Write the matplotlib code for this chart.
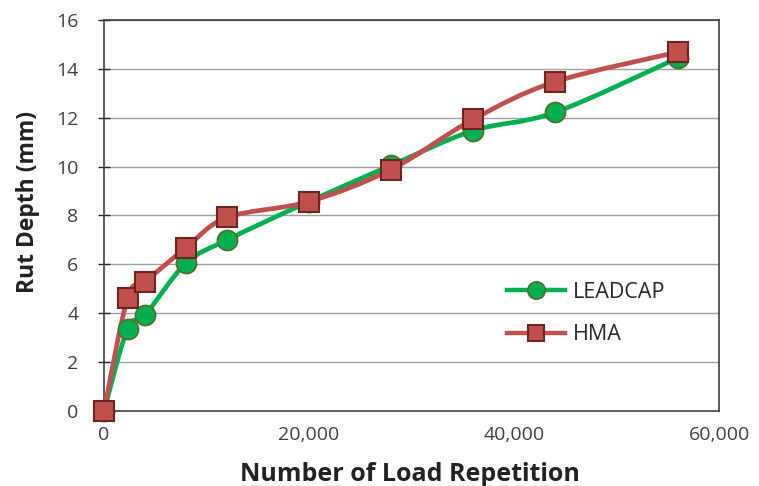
import matplotlib
matplotlib.use("Agg")
import matplotlib.pyplot as plt
import numpy as np
from matplotlib.path import Path
from matplotlib.patches import PathPatch
from matplotlib.lines import Line2D
from matplotlib.ticker import FuncFormatter

load_reps = [0, 2300, 4000, 8000, 12000, 20000, 28000, 36000, 44000, 56000]
leadcap = [0, 3.37, 3.92, 6.05, 7.0, 8.57, 10.05, 11.47, 12.22, 14.45]
hma = [0, 4.62, 5.28, 6.68, 7.92, 8.57, 9.88, 11.93, 13.47, 14.69]
series_names = ["LEADCAP", "HMA"]
x_ticks = [0, 20000, 40000, 60000]
y_ticks = [0, 2, 4, 6, 8, 10, 12, 14, 16]

FONT = "Open Sans"
plt.rcParams["font.family"] = [FONT, "DejaVu Sans"]

fig = plt.figure(figsize=(7.59, 4.86), dpi=100)
ax = fig.add_axes([104/759, 1-411/486, 615/759, 391/486])


def smooth_path(xs, ys):
    pts = np.column_stack([xs, ys]).astype(float)
    n = len(pts)
    verts = [pts[0]]
    codes = [Path.MOVETO]
    for i in range(n - 1):
        p0 = pts[i - 1] if i > 0 else pts[i]
        p1 = pts[i]
        p2 = pts[i + 1]
        p3 = pts[i + 2] if i + 2 < n else pts[i + 1]
        c1 = p1 + (p2 - p0) / 6.0
        c2 = p2 - (p3 - p1) / 6.0
        verts += [c1, c2, p2]
        codes += [Path.CURVE4] * 3
    return Path(verts, codes)


green = "#00B050"
green_edge = "#5B6B2A"
red = "#C0504D"
red_edge = "#6E2422"

ax.add_patch(PathPatch(smooth_path(load_reps, leadcap), facecolor="none",
                       edgecolor=green, lw=3.4, zorder=3, capstyle="round"))
ax.add_patch(PathPatch(smooth_path(load_reps, hma), facecolor="none",
                       edgecolor=red, lw=3.4, zorder=4, capstyle="round"))
ax.plot(load_reps, leadcap, ls="none", marker="o", ms=14.5, mfc=green,
        mec=green_edge, mew=1.2, zorder=5, clip_on=False)
ax.plot(load_reps, hma, ls="none", marker="s", ms=14, mfc=red,
        mec=red_edge, mew=1.5, zorder=6, clip_on=False)

ax.set_xlim(0, 60000)
ax.set_ylim(0, 16)
ax.set_xticks(x_ticks)
ax.set_yticks(y_ticks)
ax.xaxis.set_major_formatter(FuncFormatter(lambda v, p: f"{int(v):,}"))
ax.grid(axis="y", color="#A0A0A0", lw=1.0)
ax.set_axisbelow(True)
for s in ax.spines.values():
    s.set_color("#404040")
    s.set_linewidth(1.2)
ax.tick_params(axis="y", direction="inout", length=9, width=1.0, color="#262626",
               labelsize=14, labelcolor="#404040", pad=14)
ax.tick_params(axis="x", length=0, labelsize=14, labelcolor="#404040", pad=11)

ax.set_xlabel("Number of Load Repetition", fontsize=18, fontweight="bold",
              color="#222222", va="center")
ax.set_ylabel("Rut Depth (mm)", fontsize=16.5, fontweight="bold",
              color="#222222", va="center")
ax.xaxis.set_label_coords(0.498, -0.163)
ax.yaxis.set_label_coords(-0.124, 0.535)

handles = [
    Line2D([], [], color=green, lw=3.2, marker="o", ms=12.5, mfc=green,
           mec=green_edge, mew=1.2),
    Line2D([], [], color=red, lw=3.2, marker="s", ms=12, mfc=red,
           mec=red_edge, mew=1.5),
]
leg = ax.legend(handles, series_names, loc="upper left",
                bbox_to_anchor=(0.624, 0.38), frameon=False, fontsize=15.5,
                handlelength=2.7, labelspacing=1.0, handletextpad=0.35)
for t in leg.get_texts():
    t.set_color("#262626")

fig.savefig("out.png", dpi=100, facecolor="white")
